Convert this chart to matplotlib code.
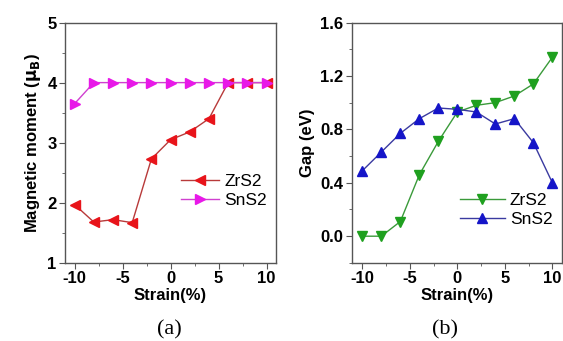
import numpy as np
import matplotlib.pyplot as plt

strain = [-10, -8, -6, -4, -2, 0, 2, 4, 6, 8, 10]

# magnetic moment (mu_B)
mag_zrs2 = [1.97, 1.68, 1.72, 1.67, 2.73, 3.05, 3.18, 3.40, 4.0, 4.0, 4.0]
mag_sns2 = [3.65, 4.0, 4.0, 4.0, 4.0, 4.0, 4.0, 4.0, 4.0, 4.0, 4.0]

# band gap (eV)
gap_zrs2 = [0.0, 0.0, 0.11, 0.46, 0.71, 0.93, 0.98, 1.00, 1.05, 1.14, 1.34]
gap_sns2 = [0.49, 0.63, 0.77, 0.88, 0.96, 0.95, 0.93, 0.84, 0.88, 0.70, 0.40]

plt.rcParams['font.family'] = ['Liberation Sans', 'DejaVu Sans']
plt.rcParams['font.weight'] = 'bold'
plt.rcParams['axes.labelweight'] = 'bold'
plt.rcParams['mathtext.default'] = 'bf'
plt.rcParams['axes.unicode_minus'] = False

fig = plt.figure(figsize=(5.63, 3.41), dpi=100)
ax1 = fig.add_axes([0.1155, 0.229, 0.375, 0.705])
ax2 = fig.add_axes([0.625, 0.229, 0.373, 0.705])

def style(ax):
    for s in ax.spines.values():
        s.set_color('#555555')
        s.set_linewidth(1.0)
    ax.tick_params(which='both', direction='out', color='#555555',
                   top=False, right=False)
    ax.tick_params(which='major', length=4, labelsize=12, pad=2)
    ax.tick_params(which='minor', length=2)

legend_font = {'family': 'Liberation Sans', 'weight': 'normal', 'size': 12.5}

# (a) magnetic moment
ax1.plot(strain, mag_zrs2, '-', color='#b83a3a', lw=1.0, marker='<',
         mfc='#e8141a', mec='#e8141a', ms=6.5, label='ZrS2')
ax1.plot(strain, mag_sns2, '-', color='#d040d0', lw=1.0, marker='>',
         mfc='#e818e8', mec='#e818e8', ms=6.5, label='SnS2')
ax1.set_xlim(-11, 11)
ax1.set_ylim(1, 5)
ax1.set_xticks([-10, -5, 0, 5, 10])
ax1.set_xticks(np.arange(-7.5, 10, 5), minor=True)
ax1.set_yticks([1, 2, 3, 4, 5])
ax1.set_yticks(np.arange(1.5, 5, 1), minor=True)
style(ax1)
ax1.set_xlabel('Strain(%)', fontsize=12, labelpad=1)
ax1.set_ylabel(r'Magnetic moment ($\mu_\mathrm{B}$)', fontsize=12, labelpad=3)
ax1.legend(loc='center right', bbox_to_anchor=(1.03, 0.3), frameon=False,
           prop=legend_font, handlelength=2.2, handletextpad=0.3,
           labelspacing=0.2)
fig.text(0.3, 0.018, '(a)', family='Liberation Serif', weight='normal',
         fontsize=16, ha='center')

# (b) band gap
ax2.plot(strain, gap_zrs2, '-', color='#3a9a3a', lw=1.0, marker='v',
         mfc='#1fa01f', mec='#1fa01f', ms=6.5, label='ZrS2')
ax2.plot(strain, gap_sns2, '-', color='#3a3aa0', lw=1.0, marker='^',
         mfc='#1515c8', mec='#1515c8', ms=6.5, label='SnS2')
ax2.set_xlim(-11.1, 11)
ax2.set_ylim(-0.2, 1.6)
ax2.set_xticks([-10, -5, 0, 5, 10])
ax2.set_xticks(np.arange(-7.5, 10, 5), minor=True)
ax2.set_yticks([0.0, 0.4, 0.8, 1.2, 1.6])
ax2.set_yticks(np.arange(-0.2, 1.6, 0.4), minor=True)
ax2.yaxis.set_major_formatter(plt.FormatStrFormatter('%.1f'))
style(ax2)
ax2.set_xlabel('Strain(%)', fontsize=12, labelpad=1)
ax2.set_ylabel('Gap (eV)', fontsize=12, labelpad=4)
ax2.legend(loc='center right', bbox_to_anchor=(1.03, 0.22), frameon=False,
           prop=legend_font, handlelength=2.6, handletextpad=0.3,
           labelspacing=0.2)
fig.text(0.79, 0.018, '(b)', family='Liberation Serif', weight='normal',
         fontsize=16, ha='center')

fig.savefig('out.png', dpi=100)
